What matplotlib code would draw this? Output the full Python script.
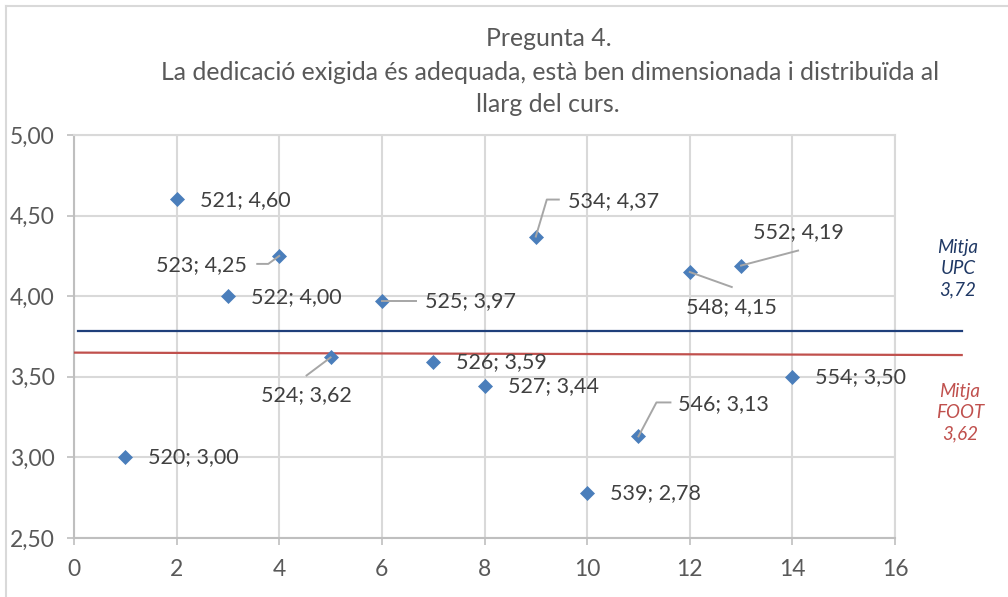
import numpy as np
import matplotlib
matplotlib.use("Agg")
import matplotlib.pyplot as plt
from matplotlib.lines import Line2D
from matplotlib.transforms import IdentityTransform
from matplotlib.ticker import FuncFormatter

# ---- data ----
x_vals = [1, 2, 3, 4, 5, 6, 7, 8, 9, 10, 11, 12, 13, 14]
codes = [520, 521, 522, 523, 524, 525, 526, 527, 534, 539, 546, 548, 552, 554]
scores = [3.00, 4.60, 4.00, 4.25, 3.62, 3.97, 3.59, 3.44, 4.37, 2.78, 3.13, 4.15, 4.19, 3.50]

upc_line_x = [0.07, 17.3]
upc_line_y = [3.785, 3.785]
foot_line_x = [0.02, 17.3]
foot_line_y = [3.65, 3.635]

upc_label = "Mitja\nUPC\n3,72"
foot_label = "Mitja\nFOOT\n3,62"

title_lines = ["Pregunta 4.",
               "La dedicació exigida és adequada, està ben dimensionada i distribuïda al",
               "llarg del curs."]

x_ticks = [0, 2, 4, 6, 8, 10, 12, 14, 16]
y_ticks = [2.5, 3.0, 3.5, 4.0, 4.5, 5.0]

# ---- label placement (pixel offsets, image convention: +y is down) ----
label_pos = {
    520: (23, 0, "left"), 521: (23, 1, "left"), 522: (23, 0.5, "left"),
    523: (-32, 9, "right"), 524: (-24, 38, "center"), 525: (43, 0, "left"),
    526: (23, 0, "left"), 527: (23, 0, "left"), 534: (32, -35, "left"),
    539: (23, 0.5, "left"), 546: (40, -32, "left"), 548: (42, 35, "center"),
    552: (12, -33, "left"), 554: (23, 0, "left"),
}
leaders = {
    523: [(0, 0), (-11, 8), (-22, 8)],
    524: [(0, 0), (-24, 18)],
    525: [(0, 0), (34, 0)],
    534: [(0, 0), (11, -37), (23, -37)],
    546: [(0, 0), (18, -34), (32, -34)],
    548: [(0, 0), (42, 15)],
    552: [(0, 0), (57, -15)],
}

plt.rcParams['font.family'] = ['Lato', 'DejaVu Sans']

W, H = 1008, 597
fig = plt.figure(figsize=(W / 100, H / 100), dpi=100)
ax = fig.add_axes([74 / W, 1 - 538 / H, (895 - 74) / W, (538 - 135) / H])

grid_c = "#D9D9D9"
axis_c = "#BFBFBF"

ax.set_xlim(0, 16)
ax.set_ylim(2.5, 5.0)
ax.set_xticks(x_ticks)
ax.set_yticks(y_ticks)
ax.yaxis.set_major_formatter(FuncFormatter(lambda v, p: f"{v:.2f}".replace(".", ",")))
ax.grid(True, color=grid_c, linewidth=1.5)
ax.set_axisbelow(True)
for s in ["top", "right"]:
    ax.spines[s].set_color(grid_c)
    ax.spines[s].set_linewidth(1.5)
for s in ["left", "bottom"]:
    ax.spines[s].set_color(axis_c)
    ax.spines[s].set_linewidth(1.5)
ax.tick_params(axis="both", length=5, width=1.2, color=axis_c, labelcolor="#595959",
               labelsize=16.5)
ax.tick_params(axis="y", pad=9)
ax.tick_params(axis="x", pad=10)

# mean lines
ax.plot(upc_line_x, upc_line_y, color="#1F3F7A", linewidth=1.6, clip_on=False, zorder=3)
ax.plot(foot_line_x, foot_line_y, color="#C0504D", linewidth=1.6, clip_on=False, zorder=3)

# points
ax.plot(x_vals, scores, linestyle="none", marker="D", markersize=7.6,
        markerfacecolor="#4A7EBB", markeredgecolor="#4A7EBB", markeredgewidth=0.5,
        zorder=5, clip_on=False)

# labels
for xv, code, val in zip(x_vals, codes, scores):
    dx, dy, ha = label_pos[code]
    ax.annotate(f"{code}; {val:.2f}".replace(".", ","), xy=(xv, val),
                xytext=(dx, -dy), textcoords="offset pixels",
                ha=ha, va="center", fontsize=15.5, color="#404040", zorder=6)

# leader lines
for xv, code, val in zip(x_vals, codes, scores):
    if code in leaders:
        base = ax.transData.transform((xv, val))
        offs = np.array(leaders[code], dtype=float)
        vx = base[0] + offs[:, 0]
        vy = base[1] - offs[:, 1]
        fig.add_artist(Line2D(vx, vy, transform=IdentityTransform(), color="#A6A6A6",
                              linewidth=1.4, zorder=4))

# mean annotations
fig.text(958 / W, 1 - 269 / H, upc_label, ha="center", va="center", fontsize=13.5,
         style="italic", color="#1F3864", linespacing=1.3)
fig.text(960 / W, 1 - 413 / H, foot_label, ha="center", va="center", fontsize=13.5,
         style="italic", color="#C0504D", linespacing=1.3)

# title
for txt, yy, xx in zip(title_lines, [38, 72, 105], [549, 550, 548]):
    fig.text(xx / W, 1 - yy / H, txt, ha="center", va="center", fontsize=17.9,
             color="#595959")

# chart border (left and top)
fig.add_artist(Line2D([6 / W, 6 / W], [0, 1 - 6 / H], transform=fig.transFigure,
                      color=grid_c, linewidth=1.5))
fig.add_artist(Line2D([6 / W, 1], [1 - 6 / H, 1 - 6 / H], transform=fig.transFigure,
                      color=grid_c, linewidth=1.5))

fig.savefig("out.png", dpi=100)
